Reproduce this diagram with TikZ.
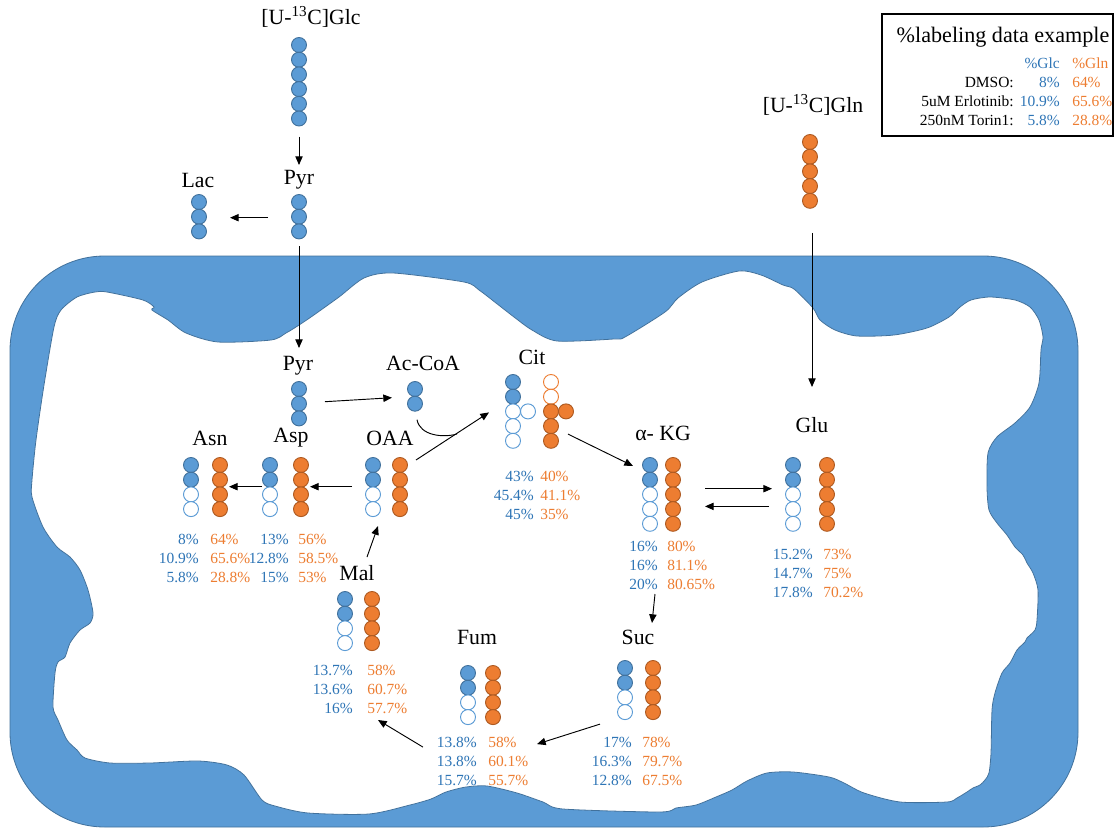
\documentclass[tikz,border=0pt]{standalone}
\usepackage{fontspec}
\setmainfont{Liberation Serif}
\usetikzlibrary{arrows.meta}

\definecolor{glc}{RGB}{91,155,213}
\definecolor{glcdark}{RGB}{65,113,156}
\definecolor{gln}{RGB}{237,125,49}
\definecolor{glndark}{RGB}{174,90,33}
\definecolor{glctext}{RGB}{46,117,182}
\definecolor{glntext}{RGB}{237,125,49}

% carbon chain: name, x, top y, tracer colour, 1 = labelled / 0 = unlabelled
\newcommand{\carbons}[5]{%
	\foreach \lab [count=\i] in {#5} {
		\pgfmathsetmacro{\y}{#3 + (\i-1)*14.7}
		\ifnum\lab=1
			\node[carbon, fill=#4, draw=#4dark] (#1-\i) at (#2,\y) {};
		\else
			\node[carbon, fill=white, draw=#4] (#1-\i) at (#2,\y) {};
		\fi
	}%
}

% labelling shares: name, right edge of glc column, left edge of gln column, top row y, glc/gln pairs
\newcommand{\shares}[5]{%
	\foreach \g/\q [count=\i] in {#5} {
		\pgfmathsetmacro{\y}{#4 + (\i-1)*19}
		\node[pct, text=glctext, anchor=east] (#1-pc\i) at (#2,\y) {\g\%};
		\node[pct, text=glntext, anchor=west] (#1-pn\i) at (#3,\y) {\q\%};
	}%
}

\begin{document}
\begin{tikzpicture}[
		x=0.75pt,
		y=-0.75pt,
		carbon/.style={circle, minimum size=11.25pt, inner sep=0pt, line width=0.7pt},
		metab/.style={font=\fontsize{16.3}{19}\selectfont, inner sep=0pt},
		pct/.style={font=\fontsize{11.6}{13}\selectfont, inner sep=0pt},
		flow/.style={-{Triangle[length=6.5pt,width=5.5pt]}, line width=0.7pt},
		membrane/.style={fill=glc, draw=glcdark, line width=0.6pt}
	]

	\useasboundingbox (0,0) rectangle (1118,828);

	% Cell membrane
	\filldraw[membrane, rounded corners=71pt] (10,256) rectangle (1078,827);
	\filldraw[fill=white, draw=glcdark, line width=0.6pt] plot[smooth cycle, tension=0.45] coordinates {
			(54,327) (61,310) (77,297) (95,292) (107,292) (143,300) (154,307) (152,310)
			(168,320) (186,333) (218,342) (271,340) (286,333) (296,327) (311,317)
			(339,297) (364,278) (393,273) (464,282) (479,290) (496,303) (514,317)
			(532,330) (557,341) (614,339) (625,337) (665,312) (678,298) (702,282)
			(739,271) (761,275) (783,285) (794,289) (813,308) (820,320) (835,330)
			(857,336) (894,335) (927,328) (949,317) (960,307) (971,300) (990,297)
			(1015,300) (1030,307) (1039,320) (1043,337) (1041,350) (1039,383)
			(1030,407) (1015,423) (997,437) (988,453) (987,487) (989,510) (997,523)
			(1007,535) (1015,547) (1023,555) (1027,563) (1033,573) (1038,590)
			(1037,620) (1035,630) (1027,638) (1025,642) (1017,650) (1010,663)
			(1002,673) (995,693) (992,710) (991,753) (989,773) (985,780) (980,785)
			(973,788) (967,792) (957,798) (947,802) (900,802) (864,793) (844,783)
			(829,777) (793,772) (767,773) (747,781) (732,790) (716,797) (696,805)
			(676,808) (660,812) (563,809) (543,802) (517,793) (487,786) (466,787)
			(446,792) (431,799) (410,805) (369,814) (308,813) (275,806) (262,800)
			(244,775) (227,765) (198,761) (150,763) (110,763) (85,758) (77,750)
			(67,740) (58,720) (53,707) (55,673) (58,662) (65,657) (70,643) (80,630)
			(90,623) (93,613) (88,590) (80,570) (70,557) (57,547) (43,527) (32,497)
			(32,480) (36,440) (44,385)
		};

	% Tracers and glycolysis outside
	\node[metab] (glcLbl) at (311,17) {[U-\textsuperscript{13}C]Glc};
	\node[metab] (glnLbl) at (813,105) {[U-\textsuperscript{13}C]Gln};
	\node[metab] (pyrLbl) at (299,180) {Pyr};
	\node[metab] (lacLbl) at (198,180) {Lac};

	\carbons{glc}{299}{45}{glc}{1,1,1,1,1,1}
	\carbons{gln}{810}{142}{gln}{1,1,1,1,1}
	\carbons{pyr}{299}{202}{glc}{1,1,1}
	\carbons{lac}{199}{202}{glc}{1,1,1}

	% Metabolites inside
	\node[metab] (pyrmLbl) at (298,366) {Pyr};
	\node[metab] (acoaLbl) at (423,363) {Ac-CoA};
	\node[metab] (citLbl) at (532,357) {Cit};
	\node[metab] (oaaLbl) at (390,438) {OAA};
	\node[metab] (aspLbl) at (291,438) {Asp};
	\node[metab] (asnLbl) at (210,438) {Asn};
	\node[metab] (akgLbl) at (663,433) {α- KG};
	\node[metab] (gluLbl) at (812,425) {Glu};
	\node[metab] (sucLbl) at (638,637) {Suc};
	\node[metab] (fumLbl) at (477,637) {Fum};
	\node[metab] (malLbl) at (357,573) {Mal};

	\carbons{pyrm}{299}{389}{glc}{1,1,1}
	\carbons{acoa}{415}{389}{glc}{1,1}
	\carbons{citc}{513}{382}{glc}{1,1,0,0,0}
	\carbons{citn}{551}{382}{gln}{0,0,1,1,1}
	\node[carbon, fill=white, draw=glc] (citc-b) at (528,411.4) {};
	\node[carbon, fill=gln, draw=glndark] (citn-b) at (566,411.4) {};
	\carbons{oaac}{373}{465}{glc}{1,1,0,0}
	\carbons{oaan}{400}{465}{gln}{1,1,1,1}
	\carbons{aspc}{270}{465}{glc}{1,1,0,0}
	\carbons{aspn}{301}{465}{gln}{1,1,1,1}
	\carbons{asnc}{191}{465}{glc}{1,1,0,0}
	\carbons{asnn}{220}{465}{gln}{1,1,1,1}
	\carbons{akgc}{650}{465}{glc}{1,1,0,0,0}
	\carbons{akgn}{673}{465}{gln}{1,1,1,1,1}
	\carbons{gluc}{793}{465}{glc}{1,1,0,0,0}
	\carbons{glun}{827}{465}{gln}{1,1,1,1,1}
	\carbons{succ}{625}{668}{glc}{1,1,0,0}
	\carbons{sucn}{653}{668}{gln}{1,1,1,1}
	\carbons{fumc}{468}{673}{glc}{1,1,0,0}
	\carbons{fumn}{493}{673}{gln}{1,1,1,1}
	\carbons{malc}{345}{599}{glc}{1,1,0,0}
	\carbons{maln}{372}{599}{gln}{1,1,1,1}

	% Labelling percentages
	\shares{asn}{199}{210}{539}{8/64, 10.9/65.6, 5.8/28.8}
	\shares{asp}{289}{298}{539}{13/56, 12.8/58.5, 15/53}
	\shares{cit}{534}{540}{476}{43/40, 45.4/41.1, 45/35}
	\shares{akg}{658}{667}{546}{16/80, 16/81.1, 20/80.65}
	\shares{glu}{813}{823}{554}{15.2/73, 14.7/75, 17.8/70.2}
	\shares{suc}{632}{642}{742}{17/78, 16.3/79.7, 12.8/67.5}
	\shares{fum}{477}{488}{742}{13.8/58, 13.8/60.1, 15.7/55.7}
	\shares{mal}{353}{367}{670}{13.7/58, 13.6/60.7, 16/57.7}

	% Reactions
	\draw[flow] ([shift={(0,18)}]glc-6.center) -- ([shift={(0,-37)}]pyr-1.center);
	\draw[flow] ([shift={(-31,1)}]pyr-2.center) -- ([shift={(31,1)}]lac-2.center);
	\draw[flow] ([shift={(0,15)}]pyr-3.center) -- ([shift={(0,-41)}]pyrm-1.center);
	\draw[flow] ([shift={(26,-2)}]pyrm-2.center) -- ([shift={(-23,-6)}]acoa-2.center);
	\draw[line width=0.7pt] ([shift={(2,16)}]acoa-2.center) .. controls +(3,16) and +(-14,4) .. ([shift={(57,-31)}]oaan-1.center);
	\draw[flow] ([shift={(16,-5)}]oaan-1.center) -- ([shift={(-24,1)}]citc-3.center);
	\draw[flow] ([shift={(-21,7)}]oaac-2.center) -- ([shift={(9,7)}]aspn-2.center);
	\draw[flow] ([shift={(-8,7)}]aspc-2.center) -- ([shift={(9,7)}]asnn-2.center);
	\draw[flow] ([shift={(22,-42)}]malc-1.center) -- ([shift={(5,17)}]oaac-4.center);
	\draw[flow] ([shift={(17,8)}]citn-4.center) -- ([shift={(-17,1)}]akgc-1.center);
	\draw[flow] ([shift={(32,9)}]akgn-2.center) -- ([shift={(-21,9)}]gluc-2.center);
	\draw[flow] ([shift={(-24,12)}]gluc-3.center) -- ([shift={(32,12)}]akgn-3.center);
	\draw[flow] ([shift={(2,32)}]gln-5.center) -- ([shift={(0,-38)}]gluLbl.center);
	\draw[flow] ([shift={(-3,10)}]akg-pc3.east) -- ([shift={(14,-14)}]sucLbl.center);
	\draw[flow] ([shift={(-25,12)}]succ-4.center) -- ([shift={(44,27)}]fumn-4.center);
	\draw[flow] ([shift={(-45,30)}]fumc-4.center) -- ([shift={(11,12)}]mal-pn3.west);

	% Legend
	\draw[line width=1.2pt] (882,14) rectangle (1113,136);
	\node[metab, font=\fontsize{16.6}{19}\selectfont] (legTitle) at (1003,37) {\%labeling data example};
	\node[pct, text=glctext, anchor=east] (legGlc) at (1060,63) {\%Glc};
	\node[pct, text=glntext, anchor=west] (legGln) at (1072,63) {\%Gln};
	\foreach \cond/\g/\q [count=\i] in {DMSO:/8/64, 5uM Erlotinib:/10.9/65.6, 250nM Torin1:/5.8/28.8} {
			\pgfmathsetmacro{\y}{63 + \i*19}
			\node[pct, anchor=east] (leg-c\i) at (1014,\y) {\cond};
			\node[pct, text=glctext, anchor=east] (leg-g\i) at (1060,\y) {\g\%};
			\node[pct, text=glntext, anchor=west] (leg-q\i) at (1072,\y) {\q\%};
		}

\end{tikzpicture}
\end{document}
